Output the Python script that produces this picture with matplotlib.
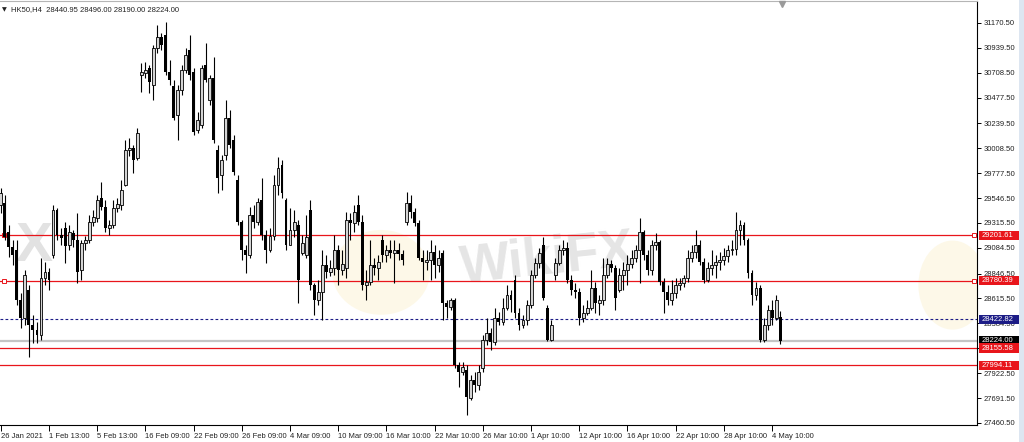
import matplotlib
matplotlib.use('Agg')
import matplotlib.pyplot as plt
import matplotlib.transforms as mtransforms
from matplotlib.patches import Ellipse, Rectangle
import numpy as np

plt.rcParams['font.family'] = ['Liberation Sans', 'DejaVu Sans']

# HK50 H4 candles (26 Jan - 4 May 2021)
opens = [
    29482, 29501, 29232, 29093, 29065, 28601, 28434, 28694, 28369, 28323,
    28276, 28805, 28861, 29018, 29436, 29204, 29269, 29111, 29222, 29158,
    28879, 29130, 29158, 29325, 29362, 29547, 29464, 29269, 29297, 29454,
    29482, 29668, 29992, 30011, 29918, 30688, 30707, 30753, 30595, 30939,
    31041, 31059, 30716, 30586, 30317, 30549, 30735, 30920, 30716, 30178,
    30224, 30781, 30456, 30660, 29992, 29760, 29946, 30289, 30085, 29714,
    29325, 29065, 29018, 29389, 29325, 29529, 29204, 29065, 29195, 29668,
    29853, 29529, 29111, 29250, 29297, 29037, 29018, 29436, 28740, 28601,
    28675, 28926, 28861, 28898, 29065, 28879, 28898, 29343, 29315, 29482,
    29325, 28740, 28768, 28926, 28898, 29158, 29018, 29065, 29037, 29065,
    29028, 29325, 29501, 29417, 29315, 28991, 28953, 28972, 29046, 28926,
    29037, 28573, 28536, 28601, 27998, 27933, 27952, 27692, 27859, 27812,
    27970, 28230, 28295, 28211, 28434, 28397, 28527, 28647, 28787, 28480,
    28369, 28415, 28555, 28833, 28944, 29111, 28527, 28230, 28833, 28944,
    29065, 29083, 28787, 28694, 28675, 28434, 28480, 28527, 28712, 28573,
    28601, 28833, 28935, 28898, 28694, 28833, 28879, 28935, 28991, 29065,
    29232, 29018, 28879, 29111, 29139, 28768, 28675, 28601, 28666, 28740,
    28759, 28805, 28991, 29046, 29111, 28953, 28787, 28898, 28926, 28953,
    28972, 29009, 29065, 29074, 29250, 29297, 29158, 28852, 28647, 28712,
    28230, 28369, 28508, 28434, 28440.95,
]
highs = [
    29640, 29575, 29297, 29158, 29158, 28666, 28879, 28740, 28462, 28397,
    28991, 28953, 28898, 29482, 29454, 29269, 29325, 29297, 29250, 29408,
    29158, 29195, 29389, 29436, 29575, 29696, 29529, 29343, 29529, 29547,
    29714, 30085, 30104, 30039, 30196, 30799, 30808, 30781, 30966, 31152,
    31078, 31180, 30827, 30642, 30595, 30781, 30939, 31059, 30753, 30345,
    30781, 30985, 30688, 30855, 30039, 29946, 30456, 30363, 30131, 29760,
    29343, 29111, 29464, 29482, 29547, 29733, 29250, 29269, 29760, 29928,
    29900, 29547, 29454, 29436, 29343, 29204, 29389, 29529, 28759, 28787,
    29065, 29018, 28972, 29204, 29111, 29065, 29417, 29408, 29482, 29575,
    29389, 28879, 29158, 28991, 29018, 29204, 29111, 29158, 29158, 29130,
    29065, 29603, 29575, 29454, 29343, 29065, 29065, 29158, 29111, 29065,
    29065, 28601, 28620, 28620, 28026, 28026, 27998, 27905, 27933, 27998,
    28276, 28434, 28341, 28527, 28490, 28620, 28740, 28694, 28833, 28527,
    28462, 28601, 28879, 28991, 29083, 29185, 28555, 28415, 28991, 29111,
    29158, 29139, 28833, 28759, 28712, 28555, 28601, 28879, 28768, 28647,
    28991, 28991, 28972, 28926, 28898, 28953, 29018, 29065, 29111, 29362,
    29250, 29065, 29158, 29222, 29158, 28805, 28740, 28787, 28805, 28805,
    28833, 29065, 29111, 29250, 29158, 28991, 28953, 29065, 29018, 29046,
    29083, 29111, 29158, 29417, 29343, 29325, 29176, 28879, 28768, 28740,
    28434, 28555, 28601, 28647, 28496,
]
lows = [
    29408, 29158, 29000, 28926, 28555, 28341, 28369, 28072, 28202, 28202,
    28230, 28740, 28694, 28991, 29158, 29111, 28944, 29065, 29093, 28759,
    28787, 29065, 29130, 29287, 29325, 29436, 29232, 29204, 29269, 29417,
    29436, 29658, 29937, 29779, 29900, 30530, 30660, 30521, 30456, 30892,
    30920, 30688, 30595, 30271, 30085, 30503, 30707, 30642, 30131, 30150,
    30196, 30623, 30410, 30057, 29594, 29621, 29900, 30011, 29760, 29297,
    28972, 28852, 28991, 29269, 29297, 29158, 28944, 29046, 29158, 29575,
    29547, 29065, 29111, 29185, 28573, 29018, 28991, 28694, 28462, 28555,
    28415, 28805, 28824, 28833, 28740, 28833, 28805, 29158, 29232, 29297,
    28694, 28601, 28740, 28833, 28787, 28953, 28953, 28991, 28759, 28972,
    28926, 29297, 29362, 29287, 28972, 28787, 28879, 28787, 28805, 28861,
    28415, 28434, 28508, 27970, 27794, 27905, 27534, 27673, 27747, 27766,
    27933, 28183, 28137, 28183, 28369, 28369, 28508, 28490, 28434, 28323,
    28341, 28369, 28527, 28805, 28898, 28601, 28221, 28221, 28787, 28926,
    29018, 28759, 28647, 28620, 28369, 28397, 28462, 28508, 28480, 28462,
    28555, 28805, 28861, 28508, 28675, 28694, 28740, 28898, 28953, 28759,
    28972, 28833, 28833, 29065, 28740, 28480, 28555, 28555, 28620, 28694,
    28722, 28768, 28953, 28991, 28926, 28759, 28768, 28833, 28805, 28879,
    28926, 28953, 29018, 29018, 29111, 29111, 28805, 28555, 28601, 28211,
    28211, 28323, 28369, 28415, 28190,
]
closes = [
    29594, 29185, 29093, 29018, 28601, 28434, 28833, 28369, 28323, 28276,
    28805, 28861, 28787, 29436, 29204, 29176, 29102, 29232, 29158, 28861,
    29130, 29158, 29325, 29371, 29529, 29464, 29269, 29297, 29454, 29492,
    29621, 29992, 30011, 29900, 30150, 30716, 30735, 30623, 30939, 31041,
    30966, 30716, 30642, 30289, 30549, 30735, 30874, 30688, 30159, 30271,
    30753, 30642, 30660, 30085, 29733, 29900, 30289, 30039, 29788, 29325,
    29065, 29018, 29389, 29325, 29510, 29204, 29065, 29195, 29668, 29825,
    29594, 29111, 29250, 29325, 28787, 29130, 29185, 28740, 28601, 28675,
    28926, 28861, 28898, 29065, 28879, 28935, 29343, 29315, 29417, 29325,
    28740, 28768, 28926, 28898, 28953, 29018, 29065, 29037, 29065, 29028,
    28972, 29501, 29417, 29315, 28991, 28953, 28972, 29046, 28926, 28991,
    28573, 28536, 28601, 27998, 27933, 27980, 27700, 27859, 27812, 27933,
    28230, 28295, 28211, 28434, 28397, 28527, 28647, 28601, 28480, 28369,
    28415, 28555, 28833, 28944, 29037, 28620, 28230, 28369, 28944, 29065,
    29083, 28787, 28694, 28675, 28434, 28480, 28527, 28712, 28573, 28601,
    28833, 28935, 28898, 28620, 28833, 28879, 28935, 28991, 29065, 29232,
    29018, 28879, 29111, 29139, 28768, 28675, 28601, 28666, 28740, 28759,
    28805, 28991, 29046, 29111, 28953, 28787, 28898, 28926, 28953, 28972,
    29009, 29065, 29074, 29250, 29297, 29158, 28852, 28647, 28712, 28230,
    28369, 28508, 28434, 28601, 28224,
]

date_labels = ['26 Jan 2021', '1 Feb 13:00', '5 Feb 13:00', '16 Feb 09:00',
               '22 Feb 09:00', '26 Feb 09:00', '4 Mar 09:00', '10 Mar 09:00',
               '16 Mar 10:00', '22 Mar 10:00', '26 Mar 10:00', '1 Apr 10:00',
               '12 Apr 10:00', '16 Apr 10:00', '22 Apr 10:00', '28 Apr 10:00',
               '4 May 10:00']
date_bars = list(range(0, 193, 12))

price_ticks = [31170.5, 30939.5, 30708.5, 30477.5, 30239.5, 30008.5, 29777.5,
               29546.5, 29315.5, 29084.5, 28846.5, 28615.5, 28384.5, 28153.5,
               27922.5, 27691.5, 27460.5]

red_levels = [29201.61, 28780.39, 28155.58, 27994.11]
marked_levels = [29201.61, 28780.39]
dashed_level = 28422.82
bid_price = 28224.00
header = 'HK50,H4  28440.95 28496.00 28190.00 28224.00'

RED = '#e8151b'
NAVY = '#1c1c86'

o = np.array(opens)
h = np.array(highs)
l = np.array(lows)
c = np.array(closes)
x = np.arange(len(c))

fig = plt.figure(figsize=(10.24, 4.42), dpi=100)
ax = fig.add_axes([0, 17 / 442, 977 / 1024, 424 / 442])
ax.set_xlim(-0.2, 243)
ax.set_ylim(27441.5, 31374.5)

# watermark
ax.text(0.56, 0.39, 'WikiFX', transform=ax.transAxes, fontsize=38,
        fontweight='bold', color='#dadada', alpha=0.7, rotation=6,
        ha='center', va='center', zorder=0.5)
ax.text(0.035, 0.42, 'X', transform=ax.transAxes, fontsize=40,
        fontweight='bold', color='#e2e2e2', ha='center', va='center', zorder=0.5)
ax.add_patch(Ellipse((0.39, 0.36), 0.1, 0.2, transform=ax.transAxes,
                     fc='#fbf1cc', ec='none', alpha=0.45, zorder=0.4))
ax.add_patch(Ellipse((0.975, 0.33), 0.07, 0.21, transform=ax.transAxes,
                     fc='#fbf1cc', ec='none', alpha=0.45, zorder=0.4))

# levels
for lv in red_levels:
    ax.axhline(lv, color=RED, lw=0.9, zorder=2)
ax.axhline(dashed_level, color=NAVY, lw=0.8, ls=(0, (2.5, 2)), zorder=2)
ax.axhline(bid_price, color='#c4c4c4', lw=1.6, zorder=1.5)

edge = mtransforms.blended_transform_factory(ax.transAxes, ax.transData)
for lv in marked_levels:
    ax.plot([0.004, 0.997], [lv, lv], 's', ms=3, mfc='white', mec=RED,
            mew=0.7, transform=edge, zorder=3, clip_on=False)

# candles
ax.vlines(x, l, h, color='black', lw=0.8, zorder=3)
up = c >= o
ax.bar(x[up], (c - o)[up], bottom=o[up], width=0.72, facecolor='#d4d4d4',
       edgecolor='black', lw=0.6, zorder=4)
ax.bar(x[~up], (o - c)[~up], bottom=c[~up], width=0.72, color='black',
       lw=0, zorder=4)

# chart shift marker
ax.plot([194.5], [0.992], 'v', ms=5, color='#9a9a9a',
        transform=mtransforms.blended_transform_factory(ax.transData, ax.transAxes),
        clip_on=False, zorder=6)

ax.text(0.002, 0.985, '\u25bc', transform=ax.transAxes, fontsize=4.5,
        family=['DejaVu Sans'], va='top', ha='left', color='#222222')
ax.text(0.011, 0.987, header, transform=ax.transAxes, fontsize=5.5,
        va='top', ha='left', color='#222222')

# axes styling
ax.spines['left'].set_visible(False)
ax.spines['top'].set_color('#b5b5b5')
ax.spines['right'].set_color('black')
ax.spines['bottom'].set_color('black')
ax.spines['right'].set_linewidth(0.8)
ax.spines['bottom'].set_linewidth(0.8)

ax.set_xticks(date_bars)
ax.set_xticklabels(date_labels, ha='left', fontsize=5.5, color='#222222')
ax.tick_params(axis='x', length=4, width=0.7, pad=1.5, direction='out')

ax.yaxis.tick_right()
ax.set_yticks(price_ticks)
ax.set_yticklabels(['%.2f' % v for v in price_ticks], fontsize=5.5, color='#222222')
ax.tick_params(axis='y', length=3, width=0.7, pad=2, direction='out')

# price tags on the scale (red ones on top, as in the terminal)
half_h = 4.6 * (31374.5 - 27441.5) / 424   # ~4.6 px half height in price units
tags = [(dashed_level, NAVY), (bid_price, 'black')] + [(lv, RED) for lv in red_levels]
for k, (lv, col) in enumerate(tags):
    ax.add_patch(Rectangle((1 + 2 / 977, lv - half_h), 40 / 977, 2 * half_h,
                           transform=edge, fc=col, ec='none', clip_on=False,
                           zorder=10 + 2 * k))
    ax.text(1 + 5 / 977, lv, '%.2f' % lv, transform=edge, fontsize=5.5,
            color='white', ha='left', va='center', clip_on=False,
            zorder=11 + 2 * k)

fig.patches.append(Rectangle((1019 / 1024, 0), 5 / 1024, 1, transform=fig.transFigure,
                             fc='#dde6f1', ec='none'))

fig.savefig('out.png', dpi=100)
